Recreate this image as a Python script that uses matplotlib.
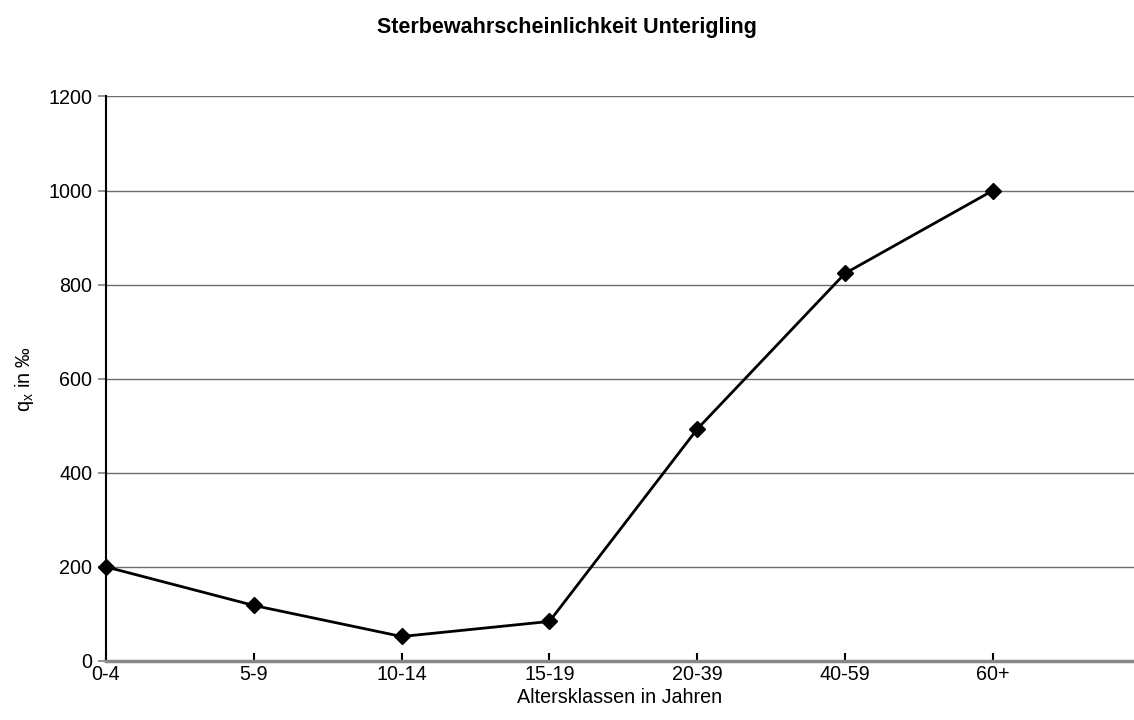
import numpy as np
import matplotlib.pyplot as plt

plt.rcParams['font.family'] = ['Liberation Sans', 'DejaVu Sans']
plt.rcParams['mathtext.default'] = 'regular'

# age classes and death probability q_x (per mille)
klassen = ['0-4', '5-9', '10-14', '15-19', '20-39', '40-59', '60+']
qx = [200, 118, 52, 84, 493, 824, 1000]
y_ticks = [0, 200, 400, 600, 800, 1000, 1200]

fig = plt.figure(figsize=(11.34, 7.2), dpi=100)
ax = fig.add_axes([0.0935, 0.082, 0.9065, 0.784])

x = np.arange(len(klassen))
ax.plot(x, qx, color='black', linewidth=2, marker='D', markersize=8,
        clip_on=False, zorder=5)

ax.set_xlim(0, 6.955)
ax.set_ylim(0, 1200)
ax.set_yticks(y_ticks)
ax.set_xticks(x)
ax.set_xticklabels(klassen)

# horizontal grid lines
ax.yaxis.grid(True, color='#6e6e6e', linewidth=1.0)
ax.set_axisbelow(True)

for s in ['top', 'right']:
    ax.spines[s].set_visible(False)
ax.spines['left'].set_color('black')
ax.spines['left'].set_linewidth(1.5)
ax.spines['bottom'].set_color('#888888')
ax.spines['bottom'].set_linewidth(2.5)

ax.tick_params(axis='y', direction='out', length=6, width=1.2,
               color='#808080', labelsize=14.2, pad=4)
ax.tick_params(axis='x', direction='in', length=6, width=1.5,
               color='black', labelsize=14.2, pad=3)

ax.set_xlabel('Altersklassen in Jahren', fontsize=14.2, labelpad=3)
ax.set_ylabel(r'q$_x$ in ‰', fontsize=14.2, labelpad=9)
fig.suptitle('Sterbewahrscheinlichkeit Unterigling', fontsize=15.5,
             fontweight='bold', x=0.5, y=0.977)

fig.savefig('out.png', dpi=100)
